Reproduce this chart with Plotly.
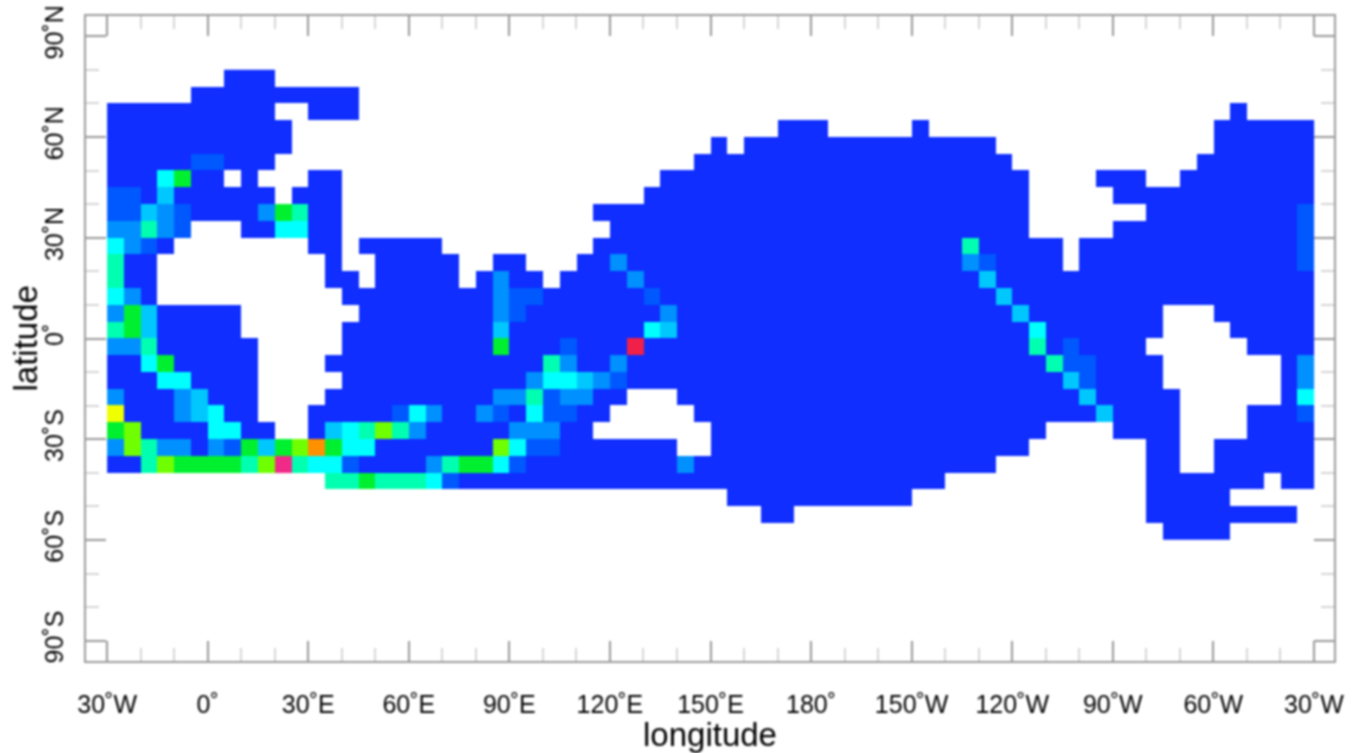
import plotly.graph_objects as go

# Binned intensity per 5-degree cell; "." = no data, 0-9 then a, b = colour class
row_p77 = ".......000 .......... .......... .......... .......... .......... .......... .."
row_p72 = ".....00000 00000..... .......... .......... .......... .......... .......... .."
row_p67 = "0000000000 ..000..... .......... .......... .......... .......... .......0.. .."
row_p62 = "0000000000 0......... .......... .......... 000.....0. .......... ......0000 00"
row_p57 = "0000000000 0......... .......... ......0.00 0000000000 000....... ......0000 00"
row_p52 = "0000011000 .......... .......... .....00000 0000000000 0000...... .....00000 00"
row_p47 = "0004600.0. ..00...... .......... ...0000000 0000000000 00000....0 00..000000 00"
row_p42 = "1103000000 .000...... .......... ..00000000 0000000000 00000..... 0000000000 00"
row_p37 = "1132100002 6500...... .........0 0000000000 0000000000 00000..... ..00000000 01"
row_p32 = "22521...00 4400...... .......... 0000000000 0000000000 00000..... 0000000000 01"
row_p27 = "4210...... ..00.00000 .........0 0000000000 0000000000 0500000.00 0000000000 01"
row_p22 = "500....... ...0..0000 0..00...00 2000000000 0000000000 0210000.00 0000000000 01"
row_p17 = "500....... ...00.0000 0.0200.000 0200000000 0000000000 0030000000 0000000000 00"
row_p12 = "420....... ....000000 0002110000 0010000000 0000000000 0003000000 0000000000 00"
row_p07 = "26300000.. .....00000 0002100000 0002000000 0000000000 0000300000 000...0000 00"
row_p02 = "56300000.. ....000000 0003000000 0043000000 0000000000 0000040000 000....000 00"
row_m02 = "225000000. ....000000 0006000100 0a00000000 0000000000 0000050100 00......00 00"
row_m07 = "004600000. ...0000000 0000005200 2000000000 0000000000 0000005110 000....... 02"
row_m12 = "000440000. ....000000 0000024432 1000000000 0000000000 0000000310 000....... 02"
row_m17 = "200023000. ...0000000 0002251220 0...000000 0000000000 0000000030 0000...... 04"
row_m22 = "800023400. ..00000142 0021041100 .....00000 0000000000 0000000003 0000....00 01"
row_m27 = "6700004400 ..03457520 000022200. ......0000 0000000000 000000.... 0000....00 00"
row_m32 = "2752202163 6796440000 0007411000 0000..0000 0000000000 00000..... ..00..0000 00"
row_m37 = "0057666657 b544100002 5664100000 0000200000 0000000000 000....... ..00..0000 00"
row_m42 = ".......... ...5565554 1000000000 0000000000 0000000000 .......... ..0000000. 00"
row_m47 = ".......... .......... .......... .......000 00000000.. .......... ..00000... .."
row_m52 = ".......... .......... .......... .........0 0......... .......... ..00000000 0."
row_m57 = ".......... .......... .......... .......... .......... .......... ...0000... .."

grid_rows = [row_p77, row_p72, row_p67, row_p62, row_p57, row_p52, row_p47, row_p42,
             row_p37, row_p32, row_p27, row_p22, row_p17, row_p12, row_p07, row_p02,
             row_m02, row_m07, row_m12, row_m17, row_m22, row_m27, row_m32, row_m37,
             row_m42, row_m47, row_m52, row_m57]
lat_centers = [77.5, 72.5, 67.5, 62.5, 57.5, 52.5, 47.5, 42.5, 37.5, 32.5, 27.5, 22.5,
               17.5, 12.5, 7.5, 2.5, -2.5, -7.5, -12.5, -17.5, -22.5, -27.5, -32.5,
               -37.5, -42.5, -47.5, -52.5, -57.5]

x_tick_vals = [-30, 0, 30, 60, 90, 120, 150, 180, 210, 240, 270, 300, 330]
x_tick_text = ["30˚W", "0˚", "30˚E", "60˚E", "90˚E", "120˚E", "150˚E", "180˚",
               "150˚W", "120˚W", "90˚W", "60˚W", "30˚W"]
y_tick_vals = [-90, -60, -30, 0, 30, 60, 90]
y_tick_text = ["90˚S", "60˚S", "30˚S", "0˚", "30˚N", "60˚N", "90˚N"]


def decode(ch):
    return None if ch == "." else int(ch, 16)


z = []
for r in grid_rows:
    cells = r.replace(" ", "")
    assert len(cells) == 72, (r, len(cells))
    z.append([decode(c) for c in cells])
lon_centers = [-27.5 + 5 * i for i in range(72)]

palette = ["#0f2eff", "#0058ff", "#0090ff", "#00c8ff", "#00ffff", "#00ffb0",
           "#00f030", "#70ff00", "#f0ff00", "#ff9000", "#f02048", "#f02a88"]
colorscale = [[i / 11, c] for i, c in enumerate(palette)]

FONT = "Liberation Sans"
MAJOR = "#989898"
MINOR = "#d6d6d6"
LINE = "#9c9c9c"

fig = go.Figure(go.Heatmap(x=lon_centers, y=lat_centers, z=z, zmin=0, zmax=11,
                           colorscale=colorscale, showscale=False, hoverongaps=False))


def axis(**kw):
    return dict(showline=True, linecolor=LINE, linewidth=2, mirror="allticks",
                showgrid=False, zeroline=False, ticks="inside", ticklen=20,
                tickwidth=2, tickcolor=MAJOR, tickmode="array", automargin=False,
                tickfont=dict(family=FONT, size=25, color="#000000"),
                minor=dict(ticks="inside", ticklen=13, tickwidth=2, tickcolor=MINOR,
                           dtick=10, showgrid=False),
                **kw)


fig.update_layout(
    width=1361, height=753,
    margin=dict(l=86, r=27, t=16, b=92),
    paper_bgcolor="white", plot_bgcolor="white",
    xaxis=axis(range=[-36.3, 336], tickvals=x_tick_vals, ticktext=x_tick_text,
               ticklabelstandoff=20,
               title=dict(text="longitude", standoff=5,
                          font=dict(family=FONT, size=33, color="#000000"))),
    yaxis=axis(range=[-96, 96], tickvals=y_tick_vals, ticktext=y_tick_text,
               tickangle=-90, ticklabelstandoff=11),
    annotations=[dict(text="latitude", xref="paper", yref="paper", x=0, y=0.5,
                      xanchor="center", yanchor="middle", xshift=-61, textangle=-90,
                      showarrow=False, font=dict(family=FONT, size=33, color="#000000"))],
)
fig.write_html(
    "out.html",
    config={"displayModeBar": False},
    post_script="document.body.style.margin='0';document.body.style.overflow='hidden';"
                "document.querySelector('.plotly-graph-div').style.filter='blur(0.9px)';",
)
